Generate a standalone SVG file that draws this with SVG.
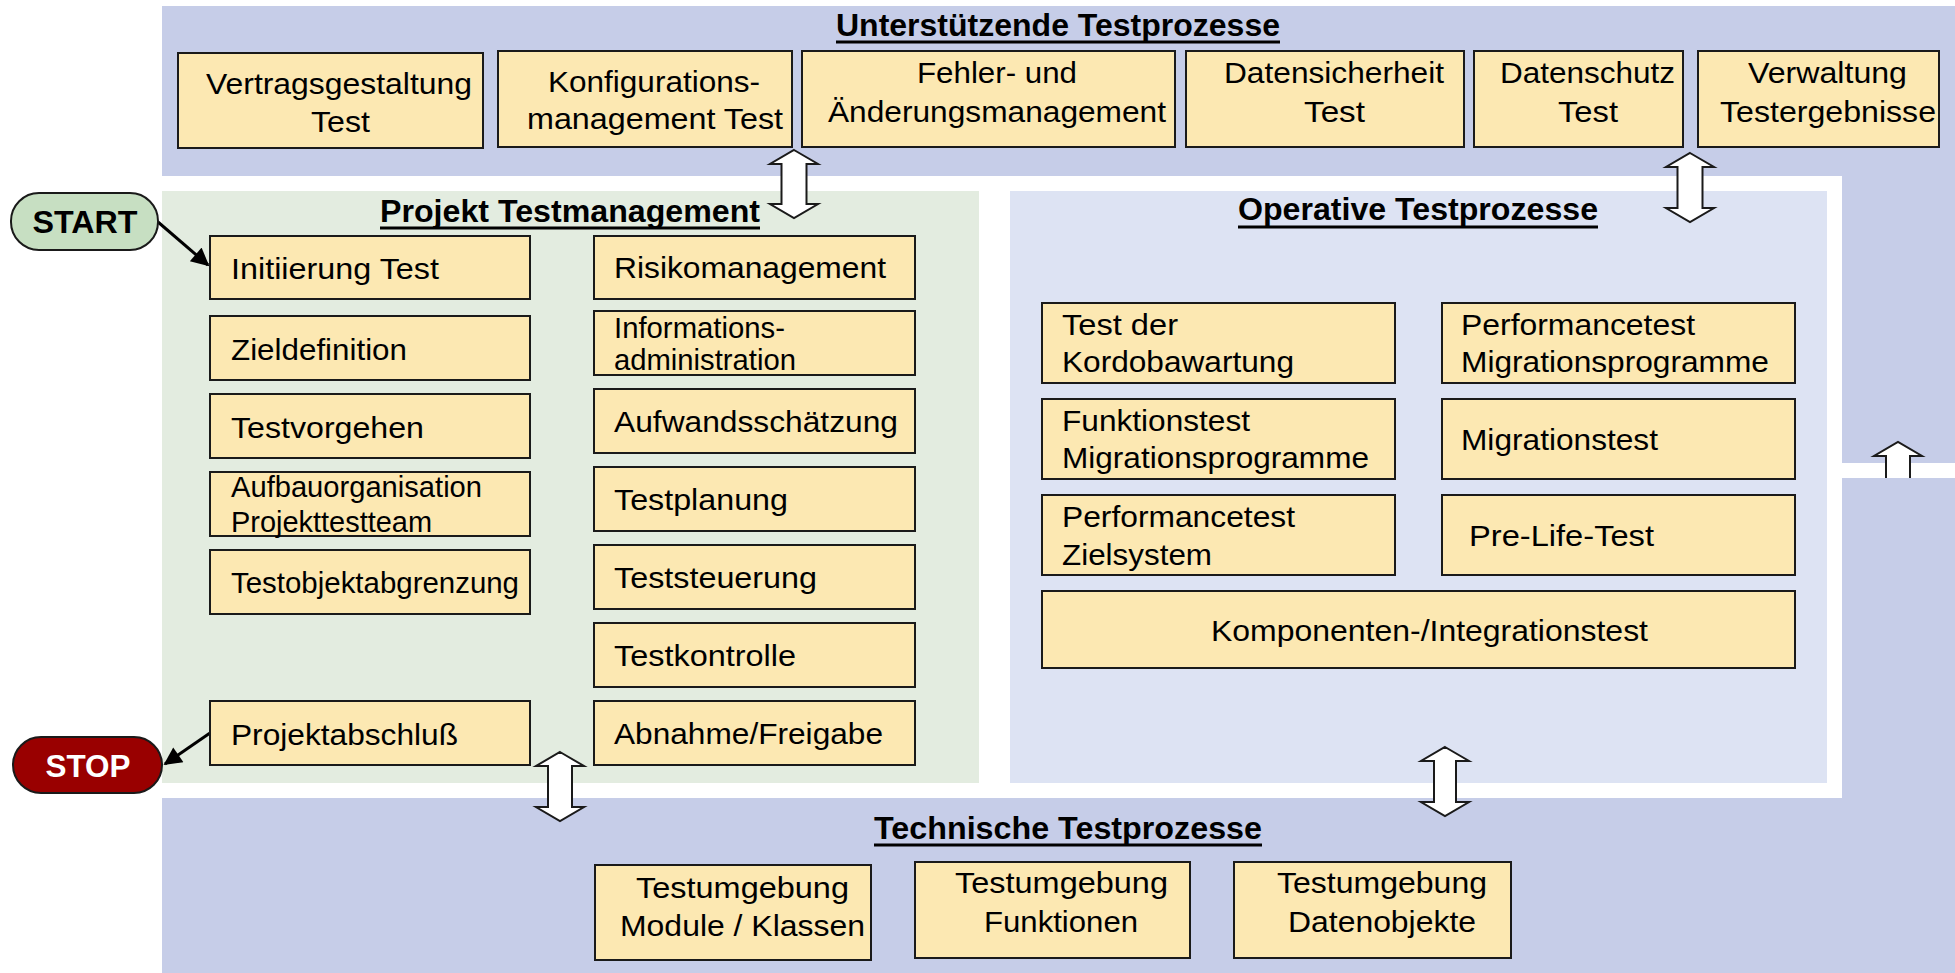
<svg xmlns="http://www.w3.org/2000/svg" width="1955" height="973" viewBox="0 0 1955 973">
<style>
.box{fill:#FCE8B2;stroke:#1a1a1a;stroke-width:2}
.t{font-family:"Liberation Sans",Arial,sans-serif;font-size:30px;fill:#000}
.tt{font-family:"Liberation Sans",Arial,sans-serif;font-size:31px;font-weight:bold;fill:#000}
.ul{stroke:#000;stroke-width:3}
.dar{fill:#fff;stroke:#1a1a1a;stroke-width:2;stroke-linejoin:miter}
.con{stroke:#000;stroke-width:3;fill:none}
</style>
<defs>
<marker id="ah" viewBox="0 0 10 10" refX="9" refY="5" markerWidth="6.5" markerHeight="6" orient="auto" markerUnits="strokeWidth">
<path d="M0,0 L10,5 L0,10 z" fill="#000"/>
</marker>
</defs>
<rect width="1955" height="973" fill="#fff"/>
<g id="backgrounds">
<rect x="162" y="6" width="1793" height="967" fill="#C6CDE8"/>
<rect x="162" y="176" width="1680" height="622" fill="#fff"/>
<rect x="1842" y="463" width="113" height="15" fill="#fff"/>
<rect x="162" y="191" width="817" height="592" fill="#E3ECE0"/>
<rect x="1010" y="191" width="817" height="592" fill="#DDE3F3"/>
</g>
<g id="titles">
<text class="tt" x="836" y="36" textLength="444" lengthAdjust="spacingAndGlyphs">Unterstützende Testprozesse</text>
<line class="ul" x1="836" y1="42" x2="1280" y2="42"/>
<text class="tt" x="380" y="222" textLength="380" lengthAdjust="spacingAndGlyphs">Projekt Testmanagement</text>
<line class="ul" x1="380" y1="228" x2="760" y2="228"/>
<text class="tt" x="1238" y="220" textLength="360" lengthAdjust="spacingAndGlyphs">Operative Testprozesse</text>
<line class="ul" x1="1238" y1="227" x2="1598" y2="227"/>
<text class="tt" x="874" y="839" textLength="388" lengthAdjust="spacingAndGlyphs">Technische Testprozesse</text>
<line class="ul" x1="874" y1="845" x2="1262" y2="845"/>
</g>
<g id="connectors">
<line class="con" x1="158" y1="222" x2="208" y2="265" marker-end="url(#ah)"/>
<line class="con" x1="210" y1="733" x2="165" y2="764" marker-end="url(#ah)"/>
<polygon class="dar" points="794,150 818,164 806.5,164 806.5,204 818,204 794,218 770,204 781.5,204 781.5,164 770,164"/>
<polygon class="dar" points="1690,153 1714,167 1702.5,167 1702.5,208 1714,208 1690,222 1666,208 1677.5,208 1677.5,167 1666,167"/>
<polygon class="dar" points="560,752 584,766 572,766 572,807 584,807 560,821 536,807 548,807 548,766 536,766"/>
<polygon class="dar" points="1445,747 1469,761 1456,761 1456,802 1469,802 1445,816 1421,802 1434,802 1434,761 1421,761"/>
<path d="M1886,478 L1886,456 L1874,456 L1898,442 L1922,456 L1910,456 L1910,478" fill="#fff" stroke="#1a1a1a" stroke-width="2"/>
</g>
<g id="start">
<rect x="11" y="193" width="147" height="57" rx="28" ry="28" fill="#C7DFC2" stroke="#1a1a1a" stroke-width="2"/>
<text class="tt" x="85" y="233" text-anchor="middle" font-size="29" textLength="105" lengthAdjust="spacingAndGlyphs">START</text>
</g>
<g id="stop">
<rect x="13" y="737" width="149" height="56" rx="28" ry="28" fill="#990000" stroke="#1a1a1a" stroke-width="2"/>
<text class="tt" x="88" y="777" text-anchor="middle" style="fill:#fff" textLength="85" lengthAdjust="spacingAndGlyphs">STOP</text>
</g>
<g id="vertragsgestaltung"><rect class="box" x="178" y="53" width="305" height="95"/>
<text class="t" x="206" y="94" font-size="31" textLength="266" lengthAdjust="spacingAndGlyphs">Vertragsgestaltung</text>
<text class="t" x="311" y="132" font-size="31" textLength="59" lengthAdjust="spacingAndGlyphs">Test</text></g>
<g id="konfiguration"><rect class="box" x="498" y="51" width="294" height="96"/>
<text class="t" x="548" y="92" font-size="31" textLength="212" lengthAdjust="spacingAndGlyphs">Konfigurations-</text>
<text class="t" x="527" y="129" font-size="31" textLength="256" lengthAdjust="spacingAndGlyphs">management Test</text></g>
<g id="fehler"><rect class="box" x="802" y="51" width="373" height="96"/>
<text class="t" x="917" y="83" font-size="31" textLength="160" lengthAdjust="spacingAndGlyphs">Fehler- und</text>
<text class="t" x="828" y="122" font-size="31" textLength="338" lengthAdjust="spacingAndGlyphs">Änderungsmanagement</text></g>
<g id="datensicherheit"><rect class="box" x="1186" y="51" width="278" height="96"/>
<text class="t" x="1224" y="83" font-size="31" textLength="220" lengthAdjust="spacingAndGlyphs">Datensicherheit</text>
<text class="t" x="1304" y="122" font-size="31" textLength="61" lengthAdjust="spacingAndGlyphs">Test</text></g>
<g id="datenschutz"><rect class="box" x="1474" y="51" width="209" height="96"/>
<text class="t" x="1500" y="83" font-size="31" textLength="175" lengthAdjust="spacingAndGlyphs">Datenschutz</text>
<text class="t" x="1558" y="122" font-size="31" textLength="60" lengthAdjust="spacingAndGlyphs">Test</text></g>
<g id="verwaltung"><rect class="box" x="1698" y="51" width="241" height="96"/>
<text class="t" x="1748" y="83" font-size="31" textLength="159" lengthAdjust="spacingAndGlyphs">Verwaltung</text>
<text class="t" x="1720" y="122" font-size="31" textLength="216" lengthAdjust="spacingAndGlyphs">Testergebnisse</text></g>
<g id="initiierung"><rect class="box" x="210" y="236" width="320" height="63"/>
<text class="t" x="231" y="279" textLength="208" lengthAdjust="spacingAndGlyphs">Initiierung Test</text></g>
<g id="zieldefinition"><rect class="box" x="210" y="316" width="320" height="64"/>
<text class="t" x="231" y="360" textLength="176" lengthAdjust="spacingAndGlyphs">Zieldefinition</text></g>
<g id="testvorgehen"><rect class="box" x="210" y="394" width="320" height="64"/>
<text class="t" x="231" y="438" textLength="193" lengthAdjust="spacingAndGlyphs">Testvorgehen</text></g>
<g id="aufbauorganisation"><rect class="box" x="210" y="472" width="320" height="64"/>
<text class="t" x="231" y="497" font-size="28" textLength="251" lengthAdjust="spacingAndGlyphs">Aufbauorganisation</text>
<text class="t" x="231" y="532" font-size="28" textLength="201" lengthAdjust="spacingAndGlyphs">Projekttestteam</text></g>
<g id="testobjektabgrenzung"><rect class="box" x="210" y="550" width="320" height="64"/>
<text class="t" x="231" y="593" textLength="288" lengthAdjust="spacingAndGlyphs">Testobjektabgrenzung</text></g>
<g id="projektabschluss"><rect class="box" x="210" y="701" width="320" height="64"/>
<text class="t" x="231" y="745" textLength="227" lengthAdjust="spacingAndGlyphs">Projektabschluß</text></g>
<g id="risikomanagement"><rect class="box" x="594" y="236" width="321" height="63"/>
<text class="t" x="614" y="278" textLength="272" lengthAdjust="spacingAndGlyphs">Risikomanagement</text></g>
<g id="informationsadministration"><rect class="box" x="594" y="311" width="321" height="64"/>
<text class="t" x="614" y="338" font-size="28" textLength="171" lengthAdjust="spacingAndGlyphs">Informations-</text>
<text class="t" x="614" y="370" font-size="28" textLength="182" lengthAdjust="spacingAndGlyphs">administration</text></g>
<g id="aufwandsschaetzung"><rect class="box" x="594" y="389" width="321" height="64"/>
<text class="t" x="614" y="432" textLength="284" lengthAdjust="spacingAndGlyphs">Aufwandsschätzung</text></g>
<g id="testplanung"><rect class="box" x="594" y="467" width="321" height="64"/>
<text class="t" x="614" y="510" textLength="174" lengthAdjust="spacingAndGlyphs">Testplanung</text></g>
<g id="teststeuerung"><rect class="box" x="594" y="545" width="321" height="64"/>
<text class="t" x="614" y="588" textLength="203" lengthAdjust="spacingAndGlyphs">Teststeuerung</text></g>
<g id="testkontrolle"><rect class="box" x="594" y="623" width="321" height="64"/>
<text class="t" x="614" y="666" textLength="182" lengthAdjust="spacingAndGlyphs">Testkontrolle</text></g>
<g id="abnahme"><rect class="box" x="594" y="701" width="321" height="64"/>
<text class="t" x="614" y="744" textLength="269" lengthAdjust="spacingAndGlyphs">Abnahme/Freigabe</text></g>
<g id="kordobawartung"><rect class="box" x="1042" y="303" width="353" height="80"/>
<text class="t" x="1062" y="335" textLength="116" lengthAdjust="spacingAndGlyphs">Test der</text>
<text class="t" x="1062" y="372" textLength="232" lengthAdjust="spacingAndGlyphs">Kordobawartung</text></g>
<g id="perf-migration"><rect class="box" x="1442" y="303" width="353" height="80"/>
<text class="t" x="1461" y="335" textLength="234" lengthAdjust="spacingAndGlyphs">Performancetest</text>
<text class="t" x="1461" y="372" textLength="308" lengthAdjust="spacingAndGlyphs">Migrationsprogramme</text></g>
<g id="funktionstest"><rect class="box" x="1042" y="399" width="353" height="80"/>
<text class="t" x="1062" y="431" textLength="188" lengthAdjust="spacingAndGlyphs">Funktionstest</text>
<text class="t" x="1062" y="468" textLength="307" lengthAdjust="spacingAndGlyphs">Migrationsprogramme</text></g>
<g id="migrationstest"><rect class="box" x="1442" y="399" width="353" height="80"/>
<text class="t" x="1461" y="450" textLength="197" lengthAdjust="spacingAndGlyphs">Migrationstest</text></g>
<g id="perf-zielsystem"><rect class="box" x="1042" y="495" width="353" height="80"/>
<text class="t" x="1062" y="527" textLength="233" lengthAdjust="spacingAndGlyphs">Performancetest</text>
<text class="t" x="1062" y="565" textLength="150" lengthAdjust="spacingAndGlyphs">Zielsystem</text></g>
<g id="prelifetest"><rect class="box" x="1442" y="495" width="353" height="80"/>
<text class="t" x="1469" y="546" textLength="185" lengthAdjust="spacingAndGlyphs">Pre-Life-Test</text></g>
<g id="komponententest"><rect class="box" x="1042" y="591" width="753" height="77"/>
<text class="t" x="1211" y="641" textLength="437" lengthAdjust="spacingAndGlyphs">Komponenten-/Integrationstest</text></g>
<g id="tu-module"><rect class="box" x="595" y="865" width="276" height="95"/>
<text class="t" x="636" y="898" textLength="213" lengthAdjust="spacingAndGlyphs">Testumgebung</text>
<text class="t" x="620" y="936" textLength="245" lengthAdjust="spacingAndGlyphs">Module / Klassen</text></g>
<g id="tu-funktionen"><rect class="box" x="915" y="862" width="275" height="96"/>
<text class="t" x="955" y="893" textLength="213" lengthAdjust="spacingAndGlyphs">Testumgebung</text>
<text class="t" x="984" y="932" textLength="154" lengthAdjust="spacingAndGlyphs">Funktionen</text></g>
<g id="tu-datenobjekte"><rect class="box" x="1234" y="862" width="277" height="96"/>
<text class="t" x="1277" y="893" textLength="210" lengthAdjust="spacingAndGlyphs">Testumgebung</text>
<text class="t" x="1288" y="932" textLength="188" lengthAdjust="spacingAndGlyphs">Datenobjekte</text></g>
</svg>
